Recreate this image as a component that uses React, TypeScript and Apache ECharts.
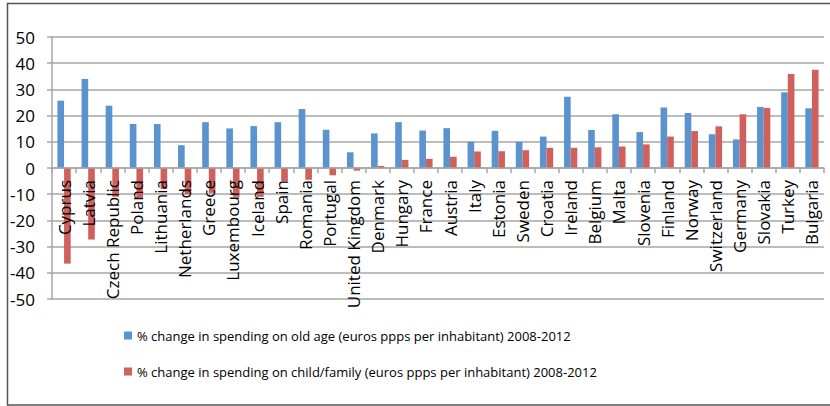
import React, { useEffect, useRef } from "react";
import * as echarts from "echarts";

const countries = [
  "Cyprus", "Latvia", "Czech Republic", "Poland", "Lithuania", "Netherlands", "Greece",
  "Luxembourg", "Iceland", "Spain", "Romania", "Portugal", "United Kingdom", "Denmark",
  "Hungary", "France", "Austria", "Italy", "Estonia", "Sweden", "Croatia", "Ireland",
  "Belgium", "Malta", "Slovenia", "Finland", "Norway", "Switzerland", "Germany",
  "Slovakia", "Turkey", "Bulgaria",
];

const oldAge = [
  25.7, 34.0, 23.8, 16.8, 16.8, 8.7, 17.5, 15.1, 16.0, 17.5, 22.5, 14.6, 6.0, 13.2,
  17.5, 14.3, 15.2, 10.0, 14.2, 10.0, 12.0, 27.2, 14.5, 20.5, 13.7, 23.1, 21.0, 12.9,
  10.9, 23.3, 28.9, 22.8,
];

const childFamily = [
  -36.5, -27.3, -11.0, -11.5, -8.0, -10.0, -9.5, -11.0, -11.0, -5.0, -4.5, -2.8, -1.0, 0.8,
  3.1, 3.5, 4.3, 6.3, 6.4, 6.8, 7.7, 7.7, 7.9, 8.2, 9.0, 12.0, 14.1, 15.9,
  20.5, 22.9, 35.9, 37.5,
];

const seriesNames = [
  "% change in spending on old age (euros ppps per inhabitant) 2008-2012",
  "% change in spending on child/family (euros ppps per inhabitant) 2008-2012",
];

const FONT = "'Open Sans', 'Noto Sans', sans-serif";
const Y_MIN = -50;
const Y_MAX = 50;
const GRID_TOP = 37;
const GRID_BOTTOM = 107;
const HEIGHT = 406;

export default function App() {
  const ref = useRef<HTMLDivElement>(null);
  useEffect(() => {
    document.body.style.margin = "0";
    const chart = echarts.init(ref.current!, null, { renderer: "svg" });
    const plotH = HEIGHT - GRID_TOP - GRID_BOTTOM;
    const zeroOffset = -(plotH * (0 - Y_MIN)) / (Y_MAX - Y_MIN);
    chart.setOption({
      animation: false,
      backgroundColor: "#ffffff",
      textStyle: { fontFamily: FONT },
      graphic: [
        {
          type: "polyline",
          shape: { points: [[840, 3.5], [7.5, 3.5], [7.5, 405], [840, 405]] },
          style: { stroke: "#555555", lineWidth: 1.5, fill: "none" },
          silent: true,
        },
      ],
      grid: { left: 52, right: 6, top: GRID_TOP, bottom: GRID_BOTTOM, containLabel: false, outerBoundsMode: "none" },
      legend: {
        orient: "vertical",
        left: 119,
        top: 324,
        itemWidth: 8,
        itemHeight: 8,
        itemGap: 23,
        icon: "rect",
        textStyle: { fontSize: 13, color: "#000", fontFamily: FONT },
        data: seriesNames,
      },
      xAxis: {
        type: "category",
        data: countries,
        offset: zeroOffset,
        z: 5,
        axisLine: { onZero: false, lineStyle: { color: "#A6A6A6", width: 1.5 } },
        axisTick: { show: true, alignWithLabel: false, length: 5, lineStyle: { color: "#A6A6A6", width: 1.5 } },
        axisLabel: {
          rotate: 90,
          interval: 0,
          margin: 12,
          fontSize: 17,
          color: "#000",
          fontFamily: FONT,
        },
        splitLine: { show: false },
      },
      yAxis: {
        type: "value",
        min: Y_MIN,
        max: Y_MAX,
        interval: 10,
        axisLine: { show: true, lineStyle: { color: "#A6A6A6", width: 1.5 } },
        axisTick: { show: true, length: 5, lineStyle: { color: "#A6A6A6", width: 1.5 } },
        axisLabel: { fontSize: 17, color: "#000", margin: 17, fontFamily: FONT },
        splitLine: { show: true, lineStyle: { color: "#A6A6A6", width: 1.5 } },
      },
      series: [
        {
          name: seriesNames[0],
          type: "bar",
          data: oldAge,
          barGap: "0%",
          barCategoryGap: "45%",
          itemStyle: { color: "#5B93CF" },
        },
        {
          name: seriesNames[1],
          type: "bar",
          data: childFamily,
          barGap: "0%",
          barCategoryGap: "45%",
          itemStyle: { color: "#CF605C" },
        },
      ],
    });
    return () => chart.dispose();
  }, []);
  return <div ref={ref} style={{ width: 830, height: 406 }} />;
}
